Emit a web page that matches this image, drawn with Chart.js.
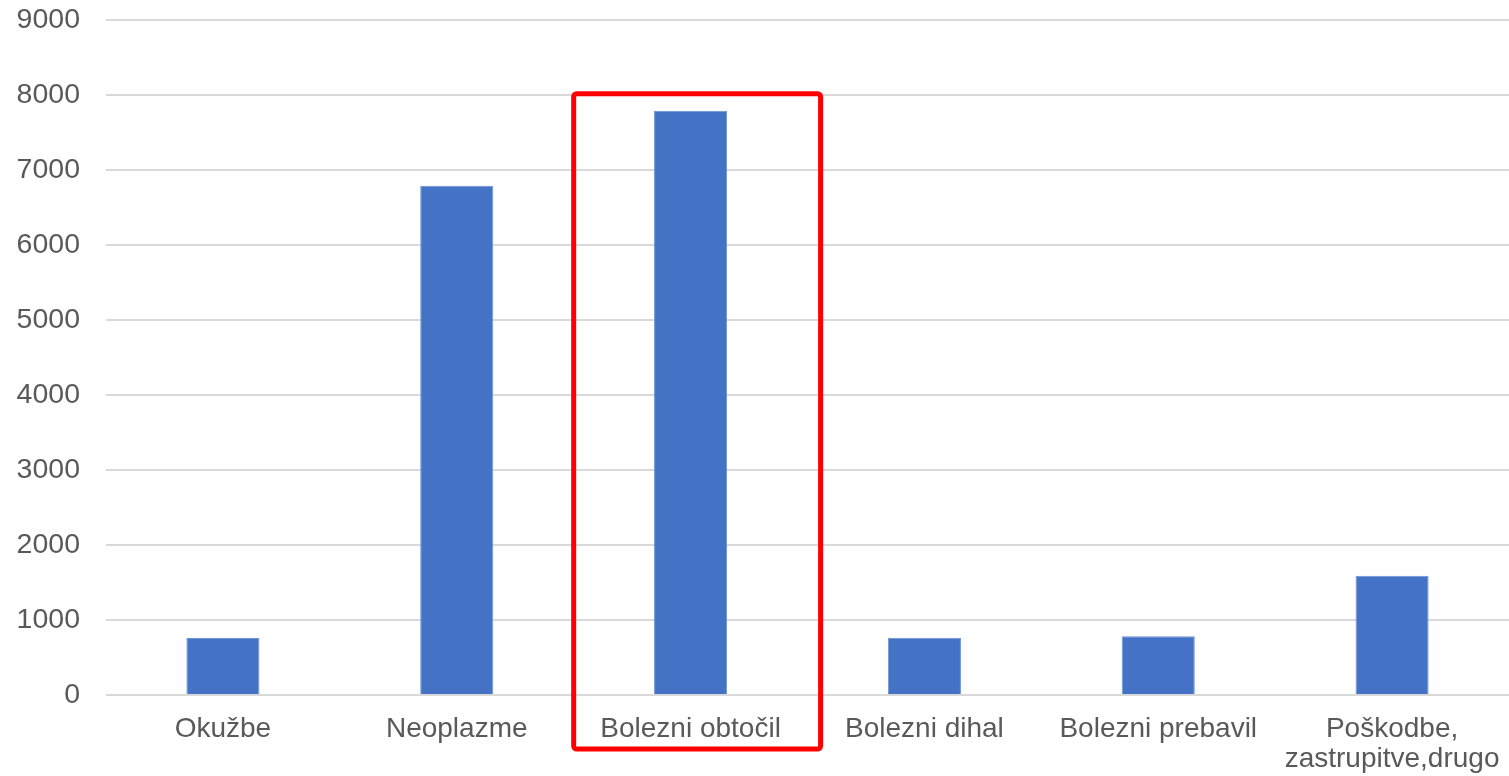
<!DOCTYPE html>
<html>
<head>
<meta charset="utf-8">
<script src="https://cdn.jsdelivr.net/npm/chart.js@4/dist/chart.umd.min.js"></script>
<style>
  html, body { margin: 0; padding: 0; background: #ffffff; }
  #wrap { width: 1509px; height: 776px; position: relative; }
</style>
</head>
<body>
<div id="wrap"><canvas id="c" width="1509" height="776"></canvas></div>
<script>
// Categories of causes of death and their counts
const categories = [
  'Okužbe',
  'Neoplazme',
  'Bolezni obtočil',
  'Bolezni dihal',
  'Bolezni prebavil',
  ['Poškodbe,', 'zastrupitve,drugo']
];
const deaths = [760, 6790, 7790, 765, 785, 1590];
const yTicks = [0, 1000, 2000, 3000, 4000, 5000, 6000, 7000, 8000, 9000];
const highlightIndex = 2;

// Red frame around the highlighted category
const highlightFrame = {
  id: 'highlightFrame',
  afterDatasetsDraw(chart) {
    const x = chart.scales.x, y = chart.scales.y;
    const cw = (x.right - x.left) / categories.length;
    const cx = x.getPixelForValue(highlightIndex);
    const left = cx - 0.5 * cw;
    const right = cx + 0.556 * cw;
    const top = y.getPixelForValue(deaths[highlightIndex]) - 17;
    const bottom = chart.chartArea.bottom + 54;
    const ctx = chart.ctx;
    ctx.save();
    ctx.strokeStyle = '#ff0000';
    ctx.lineWidth = 5;
    ctx.beginPath();
    if (ctx.roundRect) ctx.roundRect(left, top, right - left, bottom - top, 3);
    else ctx.rect(left, top, right - left, bottom - top);
    ctx.stroke();
    ctx.restore();
  }
};

new Chart(document.getElementById('c'), {
  type: 'bar',
  data: {
    labels: categories,
    datasets: [{
      data: deaths,
      backgroundColor: '#4472c4',
      borderColor: '#6f93d6',
      borderWidth: 1,
      barPercentage: 0.625,
      categoryPercentage: 0.5
    }]
  },
  options: {
    responsive: false,
    animation: false,
    layout: { padding: { top: 20, right: 0, left: 0, bottom: 0 } },
    plugins: {
      legend: { display: false },
      tooltip: { enabled: false }
    },
    scales: {
      x: {
        grid: { display: false, drawTicks: false },
        border: { display: false },
        ticks: {
          color: '#595959',
          font: { family: 'Liberation Sans, Arial, sans-serif', size: 28, lineHeight: 1.07 },
          padding: 19,
          maxRotation: 0,
          autoSkip: false
        },
        afterFit(scale) {
          scale.height = 81;
          scale.paddingLeft = 0;
          scale.paddingRight = 0;
        }
      },
      y: {
        min: 0,
        max: 9000,
        afterBuildTicks(scale) { scale.ticks = yTicks.map(v => ({ value: v })); },
        grid: { color: '#d9d9d9', lineWidth: 2, drawTicks: false },
        border: { display: false },
        ticks: {
          color: '#595959',
          font: { family: 'Liberation Sans, Arial, sans-serif', size: 28.5 },
          padding: 26,
          callback: v => String(v)
        },
        afterFit(scale) {
          scale.width = 106;
          scale.paddingTop = 0;
          scale.paddingBottom = 0;
        }
      }
    }
  },
  plugins: [highlightFrame]
});
</script>
</body>
</html>
